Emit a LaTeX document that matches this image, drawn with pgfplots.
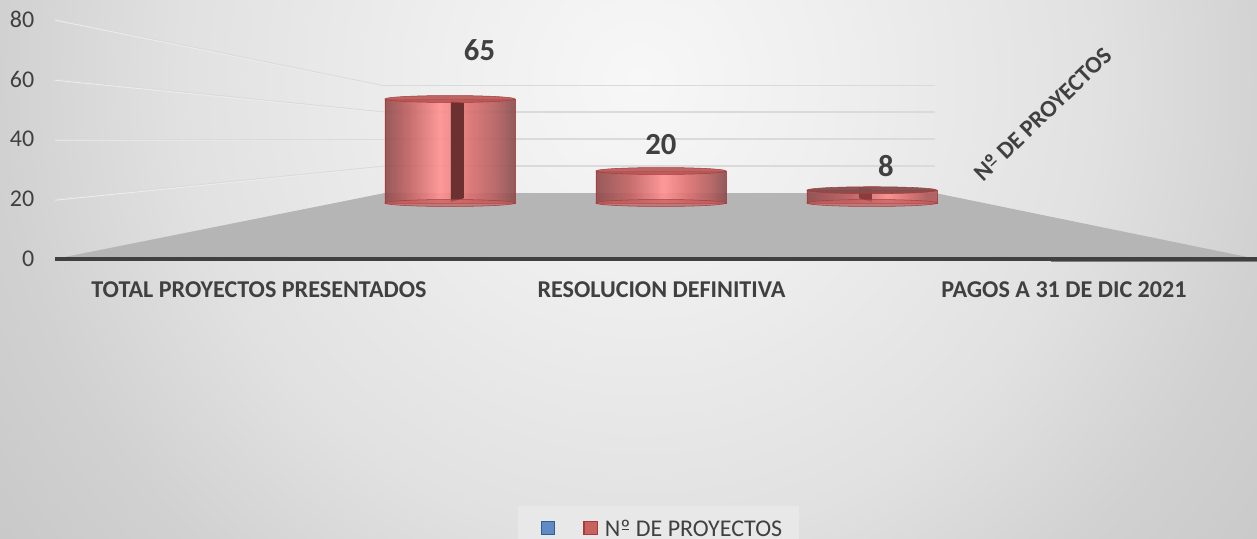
\documentclass[border=0pt]{standalone}
\usepackage{fontspec}
\setmainfont{Carlito}
\usepackage{pgfplots}
\pgfplotsset{compat=1.18}
\definecolor{txt}{HTML}{404040}
\definecolor{floorc}{HTML}{B5B5B5}
\definecolor{gridc}{HTML}{DADADA}
\definecolor{wallc}{HTML}{ECECEC}
\definecolor{legfill}{HTML}{E8E8E8}
\definecolor{barline}{HTML}{A83C3C}
\definecolor{topc}{HTML}{B85656}
\definecolor{legblue}{HTML}{5F8AC2}
\definecolor{legblued}{HTML}{2F5F96}
\definecolor{legred}{HTML}{C8625F}
\definecolor{wedgeA}{HTML}{6B3030}
\definecolor{wedgeC}{HTML}{8A3C3C}
\definecolor{g0}{HTML}{F7F7F7}
\definecolor{g1}{HTML}{EFEFEF}
\definecolor{g2}{HTML}{E1E1E1}
\definecolor{g3}{HTML}{D1D1D1}
\definecolor{g4}{HTML}{C8C8C8}
\pgfdeclareradialshading{bgshade}{\pgfpointorigin}{
  color(0bp)=(g0);
  color(5.95bp)=(g1);
  color(14.4bp)=(g2);
  color(20bp)=(g3);
  color(25bp)=(g4);
  color(50bp)=(g4)}
\definecolor{c0}{HTML}{8E4A4A}
\definecolor{c1}{HTML}{C26060}
\definecolor{c2}{HTML}{FF9090}
\definecolor{c3}{HTML}{DE7070}
\definecolor{c4}{HTML}{B25C5C}
\definecolor{c5}{HTML}{874C4C}
\pgfdeclarehorizontalshading{cylA}{100bp}{
  color(0bp)=(c0); color(25bp)=(c0); color(34bp)=(c1); color(46bp)=(c2);
  color(57bp)=(c3); color(68bp)=(c4); color(75bp)=(c5); color(100bp)=(c5)}
\pgfdeclarehorizontalshading{cylB}{100bp}{
  color(0bp)=(c0); color(25bp)=(c0); color(38bp)=(c1); color(51bp)=(c2);
  color(60bp)=(c3); color(69bp)=(c4); color(75bp)=(c5); color(100bp)=(c5)}
\pgfdeclarehorizontalshading{cylC}{100bp}{
  color(0bp)=(c0); color(25bp)=(c0); color(42bp)=(c1); color(56bp)=(c2);
  color(64bp)=(c3); color(71bp)=(c4); color(75bp)=(c4); color(100bp)=(c4)}
\pgfdeclareplotmark{disc}{%
  \pgfpathellipse{\pgfpointorigin}{\pgfqpoint{\pgfplotmarksize}{0pt}}{\pgfqpoint{0pt}{2.6pt}}%
  \pgfusepathqfillstroke}
\newcommand\Nro{N\ooalign{º\cr\hidewidth\raisebox{0.27em}{\rule{.32em}{.055em}}\hidewidth\cr}}
\pgfplotsset{
  common/.style={
    at={(0,0)}, anchor=south west,
    scale only axis, width=901.5pt, height=180pt,
    clip=false,
    axis line style={draw=none},
    tick style={draw=none},
  },
  cylbar/.style={ybar, bar width=97.5pt, bar shift=0pt, shade, shading=#1, draw=barline, line width=.6pt, opacity=.9, forget plot},
}
\begin{document}
\begin{tikzpicture}[x=0.75pt,y=-0.75pt]
% the picture is 1257x539 px, origin of the axes at px (55,259)
\path[use as bounding box, clip] (-55,-259) rectangle (1202,280);
\shade[shading=bgshade] (-215,-979) rectangle (1385,621);
\begin{axis}[common,
  xmin=-0.5068, xmax=2.4795, ymin=0, ymax=80,
  ytick={0,20,40,60,80},
  xtick={0,1,2},
  xticklabels={TOTAL PROYECTOS PRESENTADOS,RESOLUCION DEFINITIVA,PAGOS A 31 DE DIC 2021},
  x tick label style={font=\fontsize{18.1}{20}\selectfont\bfseries, text=txt, yshift=-13.5pt},
  y tick label style={font=\fontsize{18}{20}\selectfont, text=txt, xshift=-12pt},
  /pgf/number format/assume math mode=true,
]
\addplot[draw=none, fill=floorc] coordinates {(-0.5068,0) (0.313,22) (1.6795,22) (2.4795,0)} -- cycle;
% gridlines on the side wall: a pale edge under a grey line
\addplot[wallc, line width=.7pt] coordinates {(-0.5068,79.6) (0.313,57.4)};
\addplot[wallc, line width=.7pt] coordinates {(-0.5068,59.6) (0.313,48.7)};
\addplot[wallc, line width=.7pt] coordinates {(-0.5068,39.6) (0.313,39.7)};
\addplot[wallc, line width=.7pt] coordinates {(-0.5068,19.6) (0.313,30.7)};
\addplot[gridc, line width=.6pt] coordinates {(-0.5068,80) (0.313,57.7)};
\addplot[gridc, line width=.6pt] coordinates {(-0.5068,60) (0.313,49)};
\addplot[gridc, line width=.6pt] coordinates {(-0.5068,40) (0.313,40)};
\addplot[gridc, line width=.6pt] coordinates {(-0.5068,20) (0.313,31)};
% gridlines on the back wall
\addplot[gridc, line width=.8pt] coordinates {(0.313,57.7) (1.6795,57.7)};
\addplot[gridc, line width=.8pt] coordinates {(0.313,49) (1.6795,49)};
\addplot[gridc, line width=.8pt] coordinates {(0.313,40) (1.6795,40)};
\addplot[gridc, line width=.8pt] coordinates {(0.313,31) (1.6795,31)};
% front axis line
\addplot[txt, line width=2.3pt] coordinates {(-0.5068,0) (2.4795,0)};
\addplot[gray, line width=1pt] coordinates {(1.968,-0.8) (2.4795,-0.8)};
\end{axis}
\begin{axis}[common,
  xmin=-1.872, xmax=3.825, ymin=-35, ymax=115,
  xtick=\empty, ytick=\empty,
  legend columns=2,
  legend style={at={(0.3852,-1.029)}, anchor=north west, draw=none, fill=legfill,
    font=\fontsize{18}{20}\selectfont, text=txt,
    /tikz/every even column/.append style={column sep=17pt},
    inner xsep=10.5pt, inner ysep=8.5pt},
]
\addlegendimage{legend image code/.code={\path (0,0); \draw[fill=legblue, draw=legblued, line width=1pt] (6.5pt,-4pt) rectangle ++(10pt,10pt);}}
\addlegendentry{}
\addlegendimage{legend image code/.code={\path (13.5pt,0); \draw[fill=legred, draw=barline, line width=1pt] (0pt,-4pt) rectangle ++(10pt,10pt);}}
\addlegendentry{\Nro{} DE PROYECTOS}
% bars: values
\addplot[cylbar=cylA] coordinates {(0,65)};
\addplot[cylbar=cylB] coordinates {(1,20)};
\addplot[cylbar=cylC] coordinates {(2,8)};
% bottom discs
\addplot[only marks, mark=disc, mark size=48.75pt, forget plot,
   mark options={fill=c1, fill opacity=.7, draw=barline}]
  coordinates {(0,0) (1,0) (2,0)};
% top discs
\addplot[only marks, mark=disc, mark size=48.75pt, forget plot,
   mark options={fill=topc, fill opacity=.9, draw=barline}]
  coordinates {(0,65) (1,20)};
\addplot[only marks, mark=disc, mark size=48.75pt, forget plot,
   mark options={fill=c5, fill opacity=.95, draw=barline}]
  coordinates {(2,8)};
% inner wedges
\addplot[draw=none, fill=wedgeA, forget plot] coordinates {(0.0047,63.75) (0.0664,62.5) (0.0664,3) (0.0047,0.6)} -- cycle;
\addplot[draw=none, fill=wedgeC, forget plot] coordinates {(1.938,10) (2.0,8.75) (2.0,0.6) (1.938,3)} -- cycle;
\node[font=\fontsize{23}{25}\selectfont\bfseries, text=txt] at (axis cs:0.14,95.3) {65};
\node[font=\fontsize{23}{25}\selectfont\bfseries, text=txt] at (axis cs:1,36.4) {20};
\node[font=\fontsize{23}{25}\selectfont\bfseries, text=txt] at (axis cs:2.066,22.8) {8};
\node[font=\fontsize{18}{20}\selectfont\bfseries, text=txt, rotate=44] at (axis cs:2.81,55.5) {\Nro{} DE PROYECTOS};
\end{axis}
\end{tikzpicture}
\end{document}
